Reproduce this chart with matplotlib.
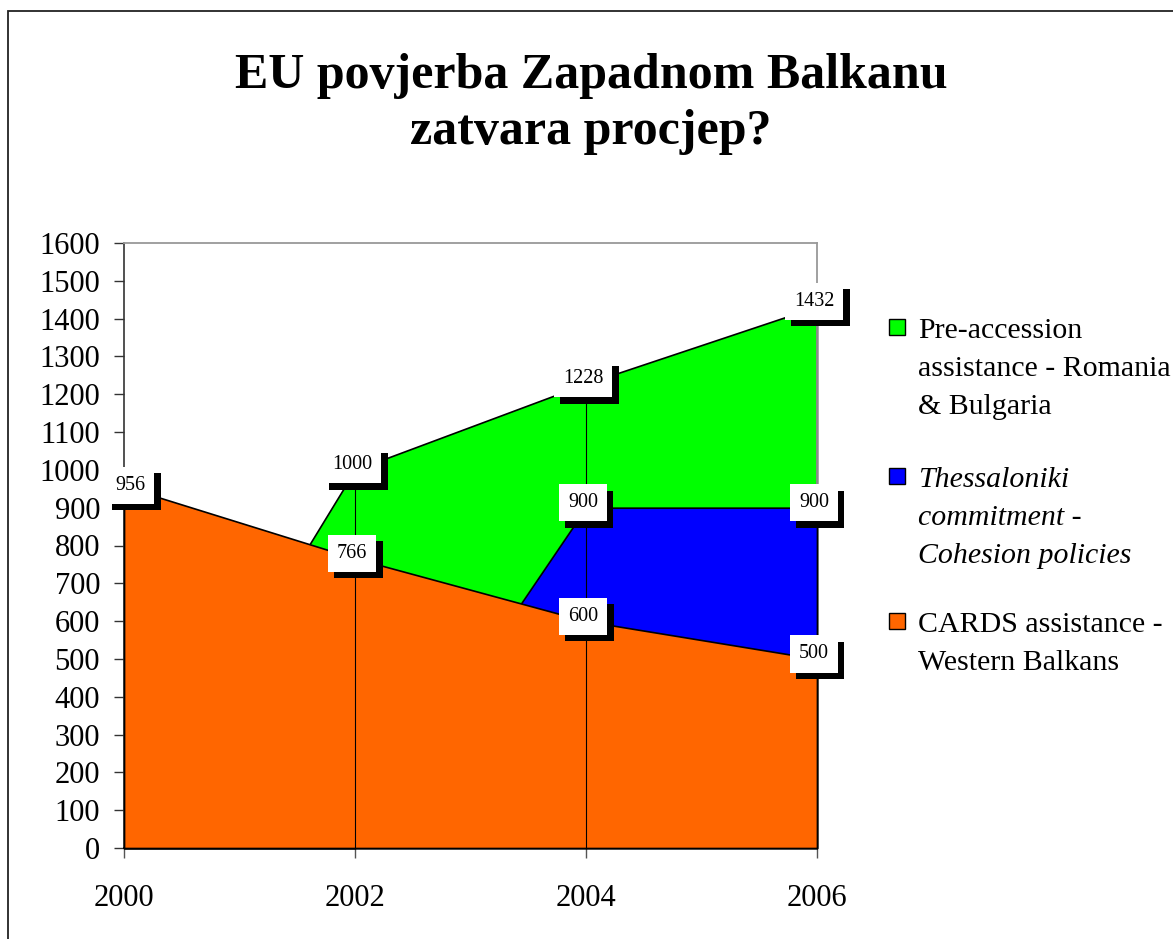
import matplotlib
matplotlib.use("Agg")
import matplotlib.pyplot as plt
from matplotlib.patches import Rectangle
import matplotlib.patheffects as pe

# ---- data ----
years = [2000, 2002, 2004, 2006]
cards = [956, 766, 600, 500]            # CARDS assistance - Western Balkans (cumulative top)
thessaloniki = [0, 0, 900, 900]          # Thessaloniki commitment - Cohesion policies (cumulative top)
preaccession = [0, 1000, 1228, 1432]     # Pre-accession assistance - Romania & Bulgaria (cumulative top)
yticks = list(range(0, 1700, 100))
title_lines = ["EU povjerba Zapadnom Balkanu", "zatvara procjep?"]

W, H = 1173, 939
DPI = 100
SERIF = "Liberation Serif"
plt.rcParams["font.family"] = [SERIF, "DejaVu Serif"]

fig = plt.figure(figsize=(W / DPI, H / DPI), dpi=DPI)

def fx(px):
    return px / W

def fy(py):
    return 1 - py / H

# outer chart border (extends beyond right/bottom)
fig.add_artist(Rectangle((fx(8), fy(1000)), 1.2, fy(11) - fy(1000), transform=fig.transFigure,
                         fill=False, ec="#222222", lw=1.3))

ax = fig.add_axes([fx(124), fy(848), fx(817) - fx(124), fy(243) - fy(848)])
ax.set_xlim(2000, 2006)
ax.set_ylim(0, 1600)

GREEN, BLUE, ORANGE = "#00FF00", "#0000FF", "#FF6600"
ax.fill_between(years, 0, preaccession, facecolor=GREEN, edgecolor="black", lw=1.2, zorder=2, clip_on=False)
ax.fill_between(years, 0, thessaloniki, facecolor=BLUE, edgecolor="black", lw=1.2, zorder=3, clip_on=False)
ax.fill_between(years, 0, cards, facecolor=ORANGE, edgecolor="black", lw=1.2, zorder=4, clip_on=False)

# drop lines
tops = [max(a, b, c) for a, b, c in zip(cards, thessaloniki, preaccession)]
ax.vlines(years, 0, tops, colors="black", lw=0.8, zorder=5)

# data labels
def add_label(x, v, dx=-3, dy=5):
    t = ax.annotate(str(v), xy=(x, v), xytext=(dx, dy), textcoords="offset pixels",
                    ha="center", va="center", fontsize=14.5, family=SERIF, zorder=10,
                    bbox=dict(boxstyle="square,pad=0.45", fc="white", ec="none"),
                    annotation_clip=False)
    t.get_bbox_patch().set_path_effects([
        pe.withSimplePatchShadow(offset=(4.6, -4.6), shadow_rgbFace="black", alpha=1.0),
        pe.Normal()])
    return t

for series in (preaccession, thessaloniki, cards):
    for i, (x, v) in enumerate(zip(years, series)):
        if v > 0:
            if x == years[0]:
                add_label(x, v, dx=6, dy=1)
            else:
                add_label(x, v)

# axes styling
ax.set_xticks(years)
ax.set_xticklabels([str(y) for y in years])
ax.set_yticks(yticks)
ax.set_yticklabels([str(v) for v in yticks])
ax.tick_params(axis="y", direction="out", length=7.2, width=1.0, color="#333333",
               labelsize=22, pad=10)
ax.tick_params(axis="x", direction="out", length=7.2, width=1.0, color="#555555",
               labelsize=22, pad=19)
for lab in ax.get_xticklabels() + ax.get_yticklabels():
    lab.set_family(SERIF)

ax.spines["left"].set_color("#333333")
ax.spines["left"].set_linewidth(1.2)
ax.spines["top"].set_color("#999999")
ax.spines["top"].set_linewidth(1.3)
ax.spines["right"].set_color("#999999")
ax.spines["right"].set_linewidth(1.3)
ax.spines["bottom"].set_color("black")
ax.spines["bottom"].set_linewidth(1.2)
ax.set_facecolor("white")

# title
fig.text(fx(591), fy(88), title_lines[0], ha="center", va="baseline",
         fontsize=36, fontweight="bold", family=SERIF)
fig.text(fx(591), fy(144), title_lines[1], ha="center", va="baseline",
         fontsize=36, fontweight="bold", family=SERIF)

# legend (manual)
legend_entries = [
    (GREEN, [("Pre-accession", "normal"), ("assistance - Romania", "normal"), ("& Bulgaria", "normal")], 319),
    (BLUE, [("Thessaloniki", "italic"), ("commitment -", "italic"), ("Cohesion policies", "italic")], 468),
    (ORANGE, [("CARDS assistance -", "normal"), ("Western Balkans", "normal")], 613),
]
for color, lines, sq_top in legend_entries:
    fig.add_artist(Rectangle((fx(889), fy(sq_top + 16)), fx(16), fy(sq_top) - fy(sq_top + 16),
                             transform=fig.transFigure, fc=color, ec="black", lw=1.0))
    base = sq_top + 19
    for j, (txt, style) in enumerate(lines):
        fig.text(fx(918), fy(base + 38 * j), txt, ha="left", va="baseline",
                 fontsize=21.5, style=style, family=SERIF)

fig.savefig("out.png", dpi=DPI)
